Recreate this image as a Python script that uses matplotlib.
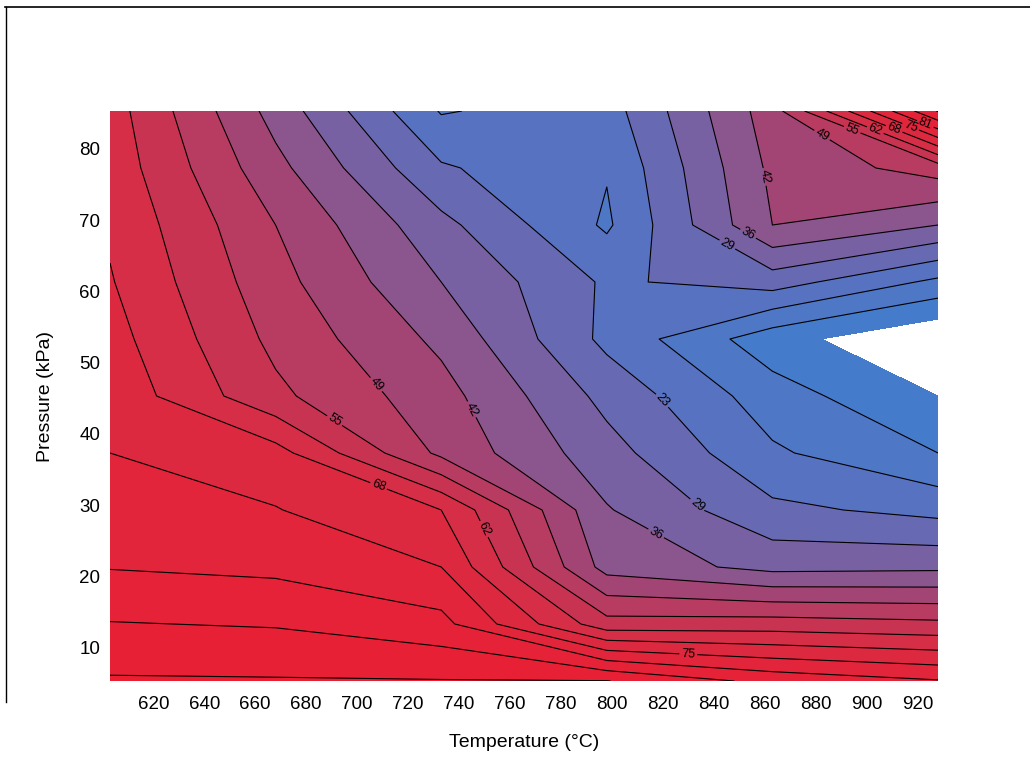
import numpy as np
import matplotlib
matplotlib.use("Agg")
import matplotlib.pyplot as plt
from matplotlib.colors import LinearSegmentedColormap
from matplotlib.lines import Line2D

plt.rcParams['font.family'] = ['Liberation Sans', 'DejaVu Sans']

# ---- data (grid) ----
temperature = [603, 668, 733, 798, 863, 928]            # °C
pressure = [5.33, 13.33, 21.33, 29.33, 37.33, 45.33,
            53.33, 61.33, 69.33, 77.33, 85.33]           # kPa
row_p05 = [95.2, 95.0, 94.8, 94.7, 86.0, 82.0]
row_p13 = [88.3, 87.5, 83.6, 58.0, 58.5, 57.0]
row_p21 = [81.2, 80.0, 75.0, 40.0, 34.0, 34.6]
row_p29 = [78.0, 75.3, 68.5, 36.5, 24.5, 21.0]
row_p37 = [75.0, 71.0, 47.5, 32.0, 17.5, 10.0]
row_p45 = [73.0, 57.0, 45.0, 27.5, 13.0, 3.5]
row_p53 = [71.0, 53.8, 41.0, 21.3, 6.1, -2.7]
row_p61 = [69.0, 51.3, 36.0, 22.0, 26.0, 15.0]
row_p69 = [67.5, 49.0, 31.4, 15.5, 42.5, 36.0]
row_p77 = [66.0, 44.5, 23.8, 17.0, 44.0, 52.0]
row_p85 = [65.0, 40.0, 16.0, 20.0, 46.0, 95.0]

fill_levels = [3.5, 10, 16.5, 23, 29.5, 36, 42.5, 49, 55.5, 62, 68.5, 75, 81.5, 88, 94.5, 101]
line_levels = [10, 16.5, 23, 29.5, 36, 42.5, 49, 55.5, 62, 68.5, 75, 81.5, 88, 94.5]

# contour labels: (level, where the label sits)
label_levels = [49, 55.5, 42.5, 68.5, 62, 23, 29.5, 36, 75, 42.5, 29.5, 36,
                49, 55.5, 62, 68.5, 75, 81.5]
label_spots = [(710, 47.7), (695, 44.0), (749, 44.2), (707, 31.4), (746, 26.0),
               (817, 43.8), (835, 30.7), (819, 27.1), (830, 9.4), (862, 76.2),
               (845, 66.4), (853, 67.8), (880, 80.5), (893, 81.5), (903, 82.3),
               (911, 83.0), (918, 83.8), (924, 84.4)]

Z = np.array([row_p05, row_p13, row_p21, row_p29, row_p37, row_p45,
              row_p53, row_p61, row_p69, row_p77, row_p85])
T, P = np.meshgrid(temperature, pressure)

# ---- colours ----
anchors = [(3.5, (65, 125, 205)), (20, (88, 114, 192)), (36, (128, 92, 155)),
           (45, (160, 70, 118)), (55, (192, 55, 90)), (65, (214, 46, 70)),
           (80, (227, 36, 58)), (101, (236, 28, 48))]
lo, hi = fill_levels[0], fill_levels[-1]
cmap = LinearSegmentedColormap.from_list(
    'br', [((v - lo) / (hi - lo), tuple(c / 255 for c in rgb)) for v, rgb in anchors])

fig = plt.figure(figsize=(10.3, 7.78), dpi=100)
ax = fig.add_axes([110 / 1030, 1 - 681 / 778, (938 - 110) / 1030, (681 - 111) / 778])

ax.contourf(T, P, Z, levels=fill_levels, cmap=cmap, vmin=lo, vmax=hi)

for lvl in line_levels:
    cs = ax.contour(T, P, Z, levels=[lvl], colors='black', linewidths=0.8)
    spots = [s for l, s in zip(label_levels, label_spots) if l == lvl]
    if spots:
        cs.clabel(fmt=lambda v: f"{int(v)}", fontsize=9, manual=spots,
                  inline=True, inline_spacing=2)

ax.set_xlim(603, 928)
ax.set_ylim(5.33, 85.33)
ax.set_xticks(range(620, 921, 20))
ax.set_yticks(range(10, 81, 10))
for s in ax.spines.values():
    s.set_visible(False)
ax.tick_params(length=0, labelsize=13.5)
ax.tick_params(axis='x', pad=11)
ax.tick_params(axis='y', pad=7)
ax.set_xlabel('Temperature (°C)', fontsize=14, labelpad=15)
ax.set_ylabel('Pressure (kPa)', fontsize=14, labelpad=18)

# scanned page frame
fig.add_artist(Line2D([5 / 1030, 1.0], [1 - 7 / 778, 1 - 7 / 778], color='black', lw=1.2))
fig.add_artist(Line2D([6 / 1030, 6 / 1030], [1 - 7 / 778, 1 - 702 / 778], color='black', lw=1.0))

fig.savefig('out.png', dpi=100)
